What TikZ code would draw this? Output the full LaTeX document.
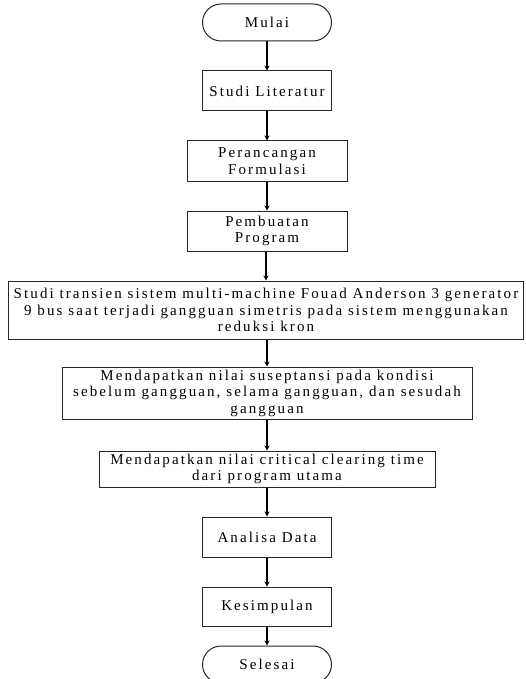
\documentclass[tikz,border=0pt]{standalone}
\usepackage{fontspec}
\setmainfont[LetterSpace=14]{Liberation Serif}
\usetikzlibrary{shapes.misc,arrows.meta}
\begin{document}
\begin{tikzpicture}[x=1pt,y=-1pt,
  box/.style={draw=black!85,line width=1pt,rectangle,align=center,inner sep=0pt,
    font=\fontsize{15}{16.5}\selectfont,text=black},
  term/.style={box,rounded rectangle,minimum width=129pt,minimum height=37pt},
  flow/.style={draw=black,line width=1.2pt,-{Stealth[length=5pt,width=5pt]}}]
\useasboundingbox (0,0) rectangle (526,679);
\node[term] (mulai) at (267,22.5) {Mulai};
\node[box,minimum width=129pt,minimum height=40pt] (lit) at (267,91) {Studi Literatur};
\node[box,minimum width=160pt,minimum height=40pt] (form) at (267,161) {Perancangan\\Formulasi};
\node[box,minimum width=160pt,minimum height=40pt] (prog) at (267,231) {Pembuatan\\Program};
\node[box,minimum width=515pt,minimum height=58pt] (trans) at (266,310) {Studi transien sistem multi-machine Fouad Anderson 3 generator\\9 bus saat terjadi gangguan simetris pada sistem menggunakan\\reduksi kron};
\node[box,minimum width=410pt,minimum height=52pt,font=\fontsize{15}{16.5}\selectfont] (susep) at (267,393) {Mendapatkan nilai suseptansi pada kondisi\\sebelum gangguan, selama gangguan, dan sesudah\\gangguan};
\node[box,minimum width=336pt,minimum height=36pt] (cct) at (267,469) {Mendapatkan nilai critical clearing time\\dari program utama};
\node[box,minimum width=129pt,minimum height=40pt] (anal) at (267,537) {Analisa Data};
\node[box,minimum width=129pt,minimum height=39pt] (kes) at (267,606.5) {Kesimpulan};
\node[term] (sel) at (267,664.5) {Selesai};
\foreach \a/\b in {mulai/lit,lit/form,form/prog,prog/trans,trans/susep,susep/cct,cct/anal,anal/kes,kes/sel}
  \draw[flow] (\a.south -| \b.north) -- (\b.north);
\end{tikzpicture}
\end{document}
